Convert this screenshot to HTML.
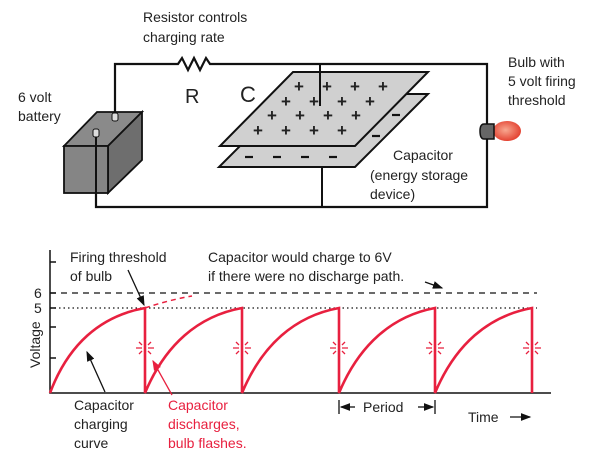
<!DOCTYPE html>
<html><head><style>body{margin:0;background:#fff}svg{display:block}text{font-family:"Liberation Sans",sans-serif;font-size:14px;fill:#222}</style></head><body>
<svg width="600" height="467" viewBox="0 0 600 467" xmlns="http://www.w3.org/2000/svg">
<defs><marker id="a" markerWidth="8" markerHeight="8" refX="7" refY="4" orient="auto"><path d="M0,1 L8,4 L0,7z" fill="#111"/></marker>
<marker id="r" markerWidth="8" markerHeight="8" refX="7" refY="4" orient="auto"><path d="M0,1 L8,4 L0,7z" fill="#e8203f"/></marker>
<radialGradient id="g" cx="0.45" cy="0.45" r="0.6"><stop offset="0" stop-color="#f8a890"/><stop offset="1" stop-color="#e23a2a"/></radialGradient></defs>
<g stroke="#111" stroke-width="2.2" fill="none">
<path d="M115,115 V64 H178 L182,58 L188,70 L194,58 L200,70 L206,58 L210,64 H487 V207 H96 V140"/>
</g>
<g stroke="#111" stroke-width="1.8">
<path d="M64,146 L97,112 L142,112 L108,146z" fill="#8a8a8a"/>
<path d="M108,146 L142,112 L142,160 L108,193z" fill="#6e6e6e"/>
<rect x="64" y="146" width="44" height="47" fill="#858585"/>
</g>
<rect x="112" y="113" width="6" height="8" rx="2" fill="#ddd" stroke="#111" stroke-width="1"/>
<rect x="93" y="129" width="6" height="8" rx="2" fill="#ddd" stroke="#111" stroke-width="1"/>
<line x1="96" y1="137" x2="96" y2="207" stroke="#111" stroke-width="2"/>
<g stroke="#111" stroke-width="2">
<path d="M292,94 L428,94 L355,167 L219,167z" fill="#d0d0d0"/>
<path d="M293,72 L428,72 L355,146 L220,146z" fill="#d0d0d0"/>
<line x1="320" y1="64" x2="320" y2="106"/>
<line x1="322" y1="167" x2="322" y2="207"/>
</g>
<g fill="#111" text-anchor="middle">
<text x="299" y="92" style="font-size:17px;font-weight:bold">+</text><text x="327" y="92" style="font-size:17px;font-weight:bold">+</text><text x="355" y="92" style="font-size:17px;font-weight:bold">+</text><text x="383" y="92" style="font-size:17px;font-weight:bold">+</text>
<text x="286" y="107" style="font-size:17px;font-weight:bold">+</text><text x="314" y="107" style="font-size:17px;font-weight:bold">+</text><text x="342" y="107" style="font-size:17px;font-weight:bold">+</text><text x="370" y="107" style="font-size:17px;font-weight:bold">+</text>
<text x="272" y="121" style="font-size:17px;font-weight:bold">+</text><text x="300" y="121" style="font-size:17px;font-weight:bold">+</text><text x="328" y="121" style="font-size:17px;font-weight:bold">+</text><text x="356" y="121" style="font-size:17px;font-weight:bold">+</text>
<text x="258" y="136" style="font-size:17px;font-weight:bold">+</text><text x="286" y="136" style="font-size:17px;font-weight:bold">+</text><text x="314" y="136" style="font-size:17px;font-weight:bold">+</text><text x="342" y="136" style="font-size:17px;font-weight:bold">+</text>
</g>
<g stroke="#111" stroke-width="2.2">
<line x1="245" y1="157" x2="253" y2="157"/><line x1="273" y1="157" x2="281" y2="157"/><line x1="301" y1="157" x2="309" y2="157"/><line x1="329" y1="157" x2="337" y2="157"/>
<line x1="392" y1="115" x2="400" y2="115"/><line x1="372" y1="136" x2="380" y2="136"/>
</g>
<ellipse cx="507" cy="131" rx="14" ry="10" fill="url(#g)"/>
<path d="M494,124 H484 Q480,124 480,131 Q480,139 484,139 H494z" fill="#666" stroke="#111" stroke-width="1.5"/>
<text x="143" y="22">Resistor controls</text><text x="143" y="42">charging rate</text>
<text x="185" y="103" style="font-size:20px">R</text><text x="240" y="102" style="font-size:22px">C</text>
<text x="18" y="102">6 volt</text><text x="18" y="121">battery</text>
<text x="508" y="67">Bulb with</text><text x="508" y="86">5 volt firing</text><text x="508" y="105">threshold</text>
<text x="393" y="160">Capacitor</text><text x="370" y="180">(energy storage</text><text x="370" y="199">device)</text>
<g stroke="#111" stroke-width="1.5" fill="none"><path d="M50,250 V393 H551"/>
<line x1="50" y1="262" x2="56" y2="262"/><line x1="50" y1="293" x2="56" y2="293"/><line x1="50" y1="308" x2="56" y2="308"/><line x1="50" y1="327" x2="56" y2="327"/><line x1="50" y1="358" x2="56" y2="358"/></g>
<line x1="50" y1="293" x2="537" y2="293" stroke="#111" stroke-width="1.3" stroke-dasharray="6,5"/>
<line x1="50" y1="308" x2="537" y2="308" stroke="#111" stroke-width="1.2" stroke-dasharray="1.5,3"/>
<text x="34" y="298">6</text><text x="34" y="313">5</text>
<text transform="translate(40,368) rotate(-90)">Voltage</text>
<g stroke="#e8203f" stroke-width="2.6" fill="none">
<path d="M50,393 C68,345 100,316 145,308 V393 C165,345 198,316 242,308 V393 C262,345 295,316 339,308 V393 C359,345 392,316 435,308 V393 C455,345 488,316 532,308 V393"/>
<path d="M145,308 C160,303 175,299 192,296" stroke-width="1.5" stroke-dasharray="5,4"/>
</g>
<g stroke="#e8203f" stroke-width="1.3" fill="none">
<path id="s" d="M136,348 H142 M148,348 H154 M145,339 V345 M145,351 V357 M139,342 L142,345 M148,351 L151,354 M151,342 L148,345 M142,351 L139,354"/>
</g>
<g stroke="#e8203f" stroke-width="1.3" fill="none">
<use href="#s" x="97"/><use href="#s" x="194"/><use href="#s" x="290"/><use href="#s" x="387"/>
</g>
<line x1="128" y1="270" x2="144" y2="305" stroke="#111" stroke-width="1.3" marker-end="url(#a)"/>
<line x1="105" y1="392" x2="87" y2="352" stroke="#111" stroke-width="1.3" marker-end="url(#a)"/>
<line x1="172" y1="395" x2="153" y2="361" stroke="#e8203f" stroke-width="1.3" marker-end="url(#r)"/>
<line x1="425" y1="282" x2="442" y2="288" stroke="#111" stroke-width="1.3" marker-end="url(#a)"/>
<text x="70" y="262">Firing threshold</text><text x="70" y="281">of bulb</text>
<text x="208" y="262">Capacitor would charge to 6V</text><text x="208" y="281">if there were no discharge path.</text>
<text x="74" y="410">Capacitor</text><text x="74" y="429">charging</text><text x="74" y="448">curve</text>
<text x="168" y="410" style="fill:#e8203f">Capacitor</text><text x="168" y="429" style="fill:#e8203f">discharges,</text><text x="168" y="448" style="fill:#e8203f">bulb flashes.</text>
<g stroke="#111" stroke-width="1.3"><line x1="339" y1="400" x2="339" y2="414"/><line x1="435" y1="400" x2="435" y2="414"/></g>
<line x1="355" y1="407" x2="341" y2="407" stroke="#111" stroke-width="1.3" marker-end="url(#a)"/>
<line x1="418" y1="407" x2="433" y2="407" stroke="#111" stroke-width="1.3" marker-end="url(#a)"/>
<text x="363" y="412">Period</text>
<text x="468" y="422">Time</text>
<line x1="510" y1="417" x2="530" y2="417" stroke="#111" stroke-width="1.3" marker-end="url(#a)"/>
</svg>
</body></html>
